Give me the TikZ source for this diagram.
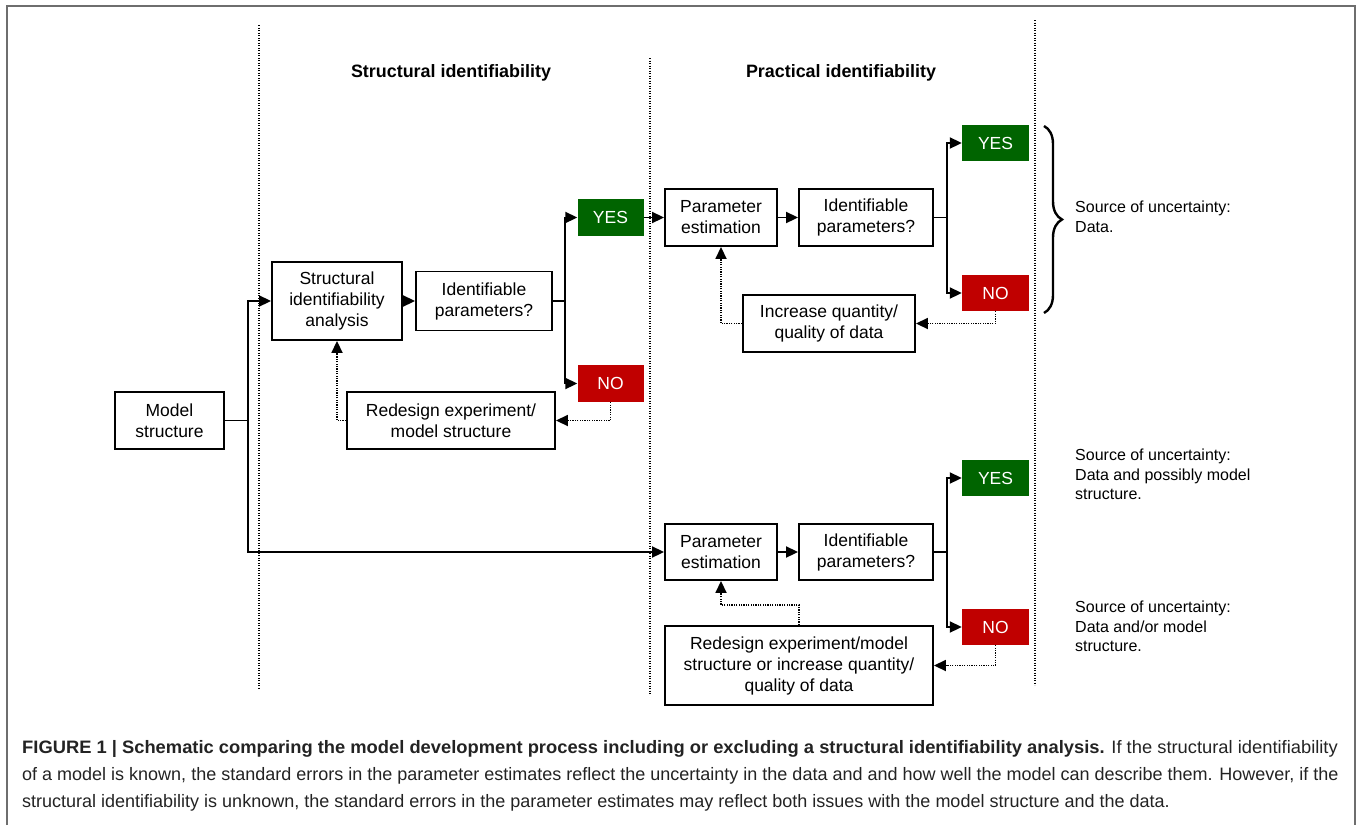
\documentclass[tikz,border=0pt]{standalone}
\usepackage{fontspec}
\setmainfont{Liberation Sans}
\usetikzlibrary{arrows.meta,decorations.pathreplacing}
\definecolor{yesgreen}{RGB}{0,100,0}
\definecolor{nored}{RGB}{192,0,0}
\definecolor{framegray}{RGB}{110,110,110}
\definecolor{captxt}{RGB}{35,35,35}
\begin{document}
\begin{tikzpicture}[x=1pt,y=-1pt,
  bx/.style={draw,line width=1.9pt,inner sep=0pt,align=center,font=\fontsize{17.5}{21}\selectfont},
  yesbox/.style={fill=yesgreen,text=white,inner sep=0pt,minimum width=66pt,minimum height=37pt,font=\fontsize{17.5}{21}\selectfont},
  nobox/.style={fill=nored,text=white,inner sep=0pt,minimum width=66pt,minimum height=37pt,font=\fontsize{17.5}{21}\selectfont},
  ln/.style={line width=1.9pt},
  arr/.style={line width=1.9pt,-{Triangle[length=12pt,width=11pt]}},
  dotarr/.style={line width=1.8pt,dash pattern=on 1.2pt off 1.2pt,-{Triangle[length=12pt,width=11pt]}},
  divider/.style={line width=1.5pt,dash pattern=on 1.3pt off 1.2pt},
  side/.style={anchor=north west,align=left,inner sep=0pt,font=\fontsize{16}{19.5}\selectfont},
  head/.style={font=\bfseries\fontsize{17.9}{21}\selectfont},
  capline/.style={anchor=base west,inner sep=0pt,text=captxt,font=\fontsize{18}{21}\selectfont}
]
\useasboundingbox (0,0) rectangle (1360,825);
% frame
\draw[framegray,line width=1.6pt] (7,825) -- (7,6) -- (1355,6) -- (1355,825);
% dividers
\draw[divider] (259,25) -- (259,688);
\draw[divider] (650,58) -- (650,695);
\draw[divider] (1035,20) -- (1035,685);
% headings
\node[head] (h1) at (451,73) {Structural identifiability};
\node[head] (h2) at (841,73) {Practical identifiability};

% structural part
\node[bx,minimum width=109pt,minimum height=57pt] (model) at (169.5,420.5) {Model\\structure};
\node[bx,minimum width=130pt,minimum height=78pt] (sia) at (337,301) {Structural\\identifiability\\analysis};
\node[bx,minimum width=136pt,minimum height=59pt] (sid) at (484,301) {Identifiable\\parameters?};
\node[yesbox] (syes) at (610.5,217.5) {YES};
\node[nobox] (sno) at (610.5,383.5) {NO};
\node[bx,minimum width=208pt,minimum height=57pt] (sred) at (451,420.5) {Redesign experiment/\\model structure};

% practical top
\node[bx,minimum width=112pt,minimum height=57pt] (pe1) at (721,217.5) {Parameter\\estimation};
\node[bx,minimum width=134pt,minimum height=57pt] (pid1) at (866,217.5) {Identifiable\\parameters?};
\node[yesbox,minimum width=67pt,minimum height=36pt] (pyes1) at (995.5,143) {YES};
\node[nobox,minimum width=67pt,minimum height=36pt] (pno1) at (995.5,293) {NO};
\node[bx,minimum width=172pt,minimum height=57pt] (inc) at (829,323.5) {Increase quantity/\\quality of data};

% practical bottom
\node[bx,minimum width=112pt,minimum height=56pt] (pe2) at (721,552) {Parameter\\estimation};
\node[bx,minimum width=134pt,minimum height=56pt] (pid2) at (866,552) {Identifiable\\parameters?};
\node[yesbox,minimum width=67pt,minimum height=36pt] (pyes2) at (995.5,478) {YES};
\node[nobox,minimum width=67pt,minimum height=36pt] (pno2) at (995.5,627) {NO};
\node[bx,minimum width=268pt,minimum height=79pt] (red2) at (799,665.5) {Redesign experiment/model\\structure or increase quantity/\\quality of data};

% connectors: model structure
\coordinate (j1) at (248,420.5);
\draw[ln] (model.east) -- (j1);
\draw[arr] (j1) |- (sia.west);
\draw[arr] (j1) |- (pe2.west);
% structural
\draw[arr] (sia.east) -- (sid.west);
\coordinate (j2) at (565,301);
\draw[ln] (sid.east) -- (j2);
\draw[arr] (j2) |- (syes.west);
\draw[arr] (j2) |- (sno.west);
\draw[arr] (syes.east) -- (pe1.west);
\draw[dotarr] (sno.south) |- (sred.east);
\draw[dotarr] (sred.west) -| (sia.south);
% practical top
\draw[arr] (pe1.east) -- (pid1.west);
\coordinate (j3) at (947,217.5);
\draw[ln] (pid1.east) -- (j3);
\draw[arr] (j3) |- (pyes1.west);
\draw[arr] (j3) |- (pno1.west);
\draw[dotarr] (pno1.south) |- (inc.east);
\draw[dotarr] (inc.west) -| (pe1.south);
% practical bottom
\draw[arr] (pe2.east) -- (pid2.west);
\coordinate (j4) at (947,552);
\draw[ln] (pid2.east) -- (j4);
\draw[arr] (j4) |- (pyes2.west);
\draw[arr] (j4) |- (pno2.west);
\draw[dotarr] (pno2.south) |- (red2.east);
\coordinate (j5) at (799,605);
\draw[dotarr] (red2.north) -- (j5) -| (pe2.south);

% brace
\draw[decorate,decoration={brace,amplitude=18pt},line width=2.4pt] (1044,126) -- (1044,313);
% side texts
\node[side] (s1) at (1075,201) {Source of uncertainty:\\Data.};
\node[side] (s2) at (1075,449) {Source of uncertainty:\\Data and possibly model\\structure.};
\node[side] (s3) at (1075,601) {Source of uncertainty:\\Data and/or model\\structure.};

% caption
\node[capline] (c1) at (22,753) {\scalebox{1.019}[1]{\textbf{FIGURE 1 | Schematic comparing the model development process including or excluding a structural identifiability analysis.} If the structural identifiability}};
\node[capline] (c2) at (22,780) {of a model is known, the standard errors in the parameter estimates reflect the uncertainty in the data and and how well the model can describe them. However, if the};
\node[capline] (c3) at (22,807) {structural identifiability is unknown, the standard errors in the parameter estimates may reflect both issues with the model structure and the data.};
\end{tikzpicture}
\end{document}
